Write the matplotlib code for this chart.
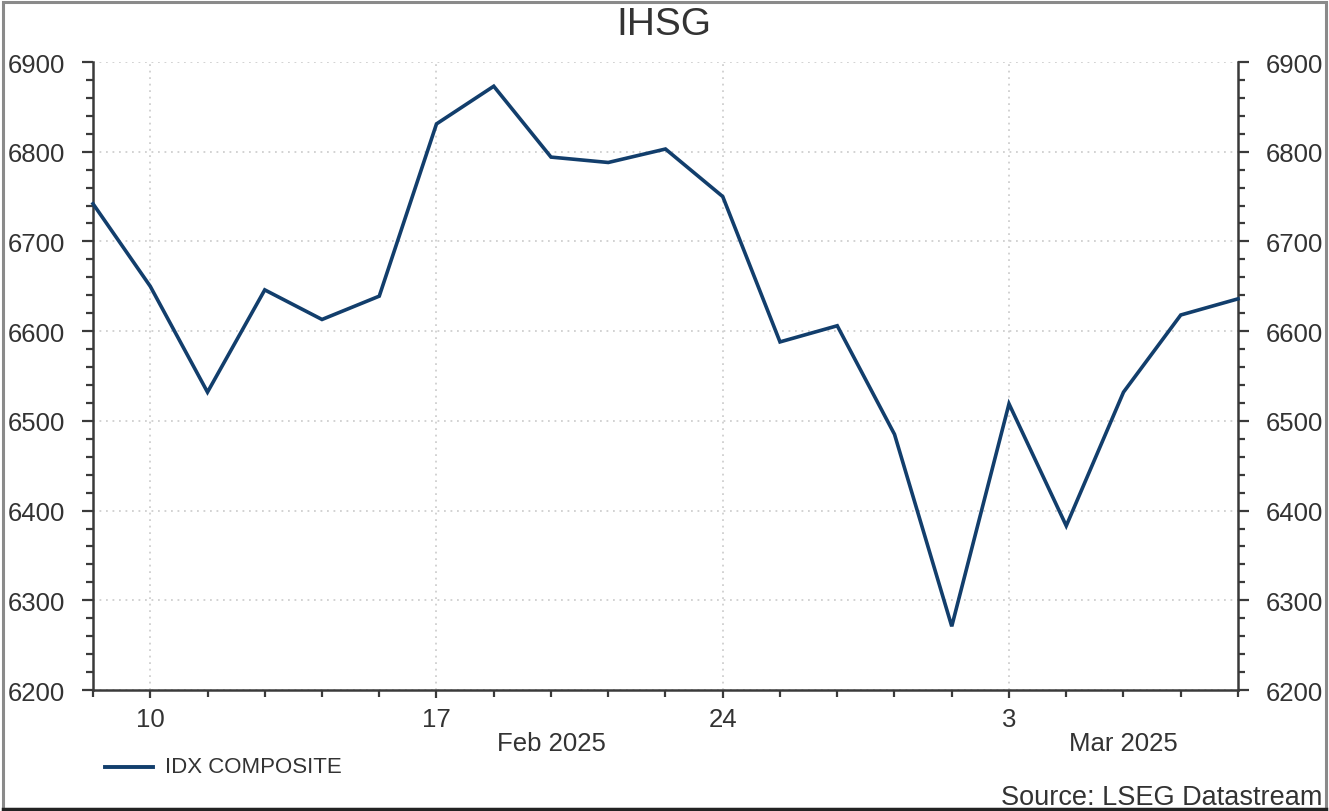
import numpy as np
import matplotlib
matplotlib.use("Agg")
import matplotlib.pyplot as plt
from matplotlib.ticker import FixedLocator, MultipleLocator
from matplotlib.patches import Rectangle
from matplotlib.lines import Line2D

# ---- data ----
dates = ["2025-02-07", "2025-02-10", "2025-02-11", "2025-02-12", "2025-02-13", "2025-02-14",
         "2025-02-17", "2025-02-18", "2025-02-19", "2025-02-20", "2025-02-21",
         "2025-02-24", "2025-02-25", "2025-02-26", "2025-02-27", "2025-02-28",
         "2025-03-03", "2025-03-04", "2025-03-05", "2025-03-06", "2025-03-07"]
values = [6742, 6650, 6532, 6646, 6613, 6639,
          6831, 6873, 6794, 6788, 6803,
          6750, 6588, 6606, 6485, 6271,
          6519, 6383, 6532, 6618, 6636]
tick_dates = ["2025-02-10", "2025-02-17", "2025-02-24", "2025-03-03"]
tick_labels = ["10", "17", "24", "3"]
month_labels = ["Feb 2025", "Mar 2025"]
month_label_dates = ["2025-02-19", "2025-03-05"]
series_name = "IDX COMPOSITE"
title = "IHSG"
source = "Source: LSEG Datastream"

# business-day positions
start = np.datetime64(dates[0])
x = np.array([np.busday_count(start, np.datetime64(d)) for d in dates])
xt = [np.busday_count(start, np.datetime64(d)) for d in tick_dates]
xm = [np.busday_count(start, np.datetime64(d)) for d in month_label_dates]

plt.rcParams['font.family'] = ['Liberation Sans', 'DejaVu Sans']
W, H = 1329, 812
fig = plt.figure(figsize=(W / 100, H / 100), dpi=100)
ax = fig.add_axes([93 / W, 1 - 691 / H, (1238 - 93) / W, (691 - 63) / H])

line_color = "#123e6c"
axis_color = "#3a3a3a"
text_color = "#333333"

ax.plot(x, values, color=line_color, lw=2.6, solid_joinstyle="miter", zorder=3, clip_on=False)

ax.set_xlim(x[0], x[-1])
ax.set_ylim(6200, 6900)
ax.yaxis.set_major_locator(MultipleLocator(100))
ax.yaxis.set_minor_locator(MultipleLocator(20))
ax.xaxis.set_major_locator(FixedLocator(xt))
ax.xaxis.set_minor_locator(FixedLocator(list(x)))
ax.set_xticklabels(tick_labels)

ax.grid(True, which="major", axis="both", color="#cfcfcf", linestyle=(0, (1.0, 2.6)), lw=1.3)
ax.set_axisbelow(True)

ax.spines["top"].set_visible(False)
for s in ["left", "right", "bottom"]:
    ax.spines[s].set_color(axis_color)
    ax.spines[s].set_linewidth(1.8)

ax.tick_params(axis="y", which="both", left=True, right=True, labelleft=True, labelright=True,
               direction="out", colors=axis_color, labelcolor=text_color, labelsize=18.5, pad=12)
ax.tick_params(axis="y", which="major", length=8, width=1.6)
ax.tick_params(axis="y", which="minor", length=5, width=1.6)
ax.tick_params(axis="x", which="major", length=6, width=1.6, colors=axis_color,
               labelcolor=text_color, labelsize=18.5, pad=6)
ax.tick_params(axis="x", which="minor", length=5, width=1.6, colors=axis_color)

for xi, lab in zip(xm, month_labels):
    ax.text(xi, -0.085, lab, transform=ax.get_xaxis_transform(), ha="center", va="center",
            fontsize=18.5, color=text_color)

fig.text(664 / W, 1 - 25 / H, title, ha="center", va="center", fontsize=28, color=text_color)

# legend
fig.add_artist(Line2D([105 / W, 153 / W], [1 - 768 / H, 1 - 768 / H], color=line_color, lw=2.8))
fig.text(165 / W, 1 - 768 / H, series_name, ha="left", va="center", fontsize=16, color=text_color)

fig.text(1322 / W, 1 - 798 / H, source, ha="right", va="center", fontsize=19.5, color=text_color)

# outer frame
fig.add_artist(Rectangle((2.5 / W, 2.5 / H), (W - 6) / W, (H - 5) / H, transform=fig.transFigure,
                         fill=False, edgecolor="#8a8a8a", lw=2.2))
fig.add_artist(Line2D([2.5 / W, (W - 3.5) / W], [2.5 / H, 2.5 / H], color="#222222", lw=2.5))

fig.savefig("out.png", dpi=100)
